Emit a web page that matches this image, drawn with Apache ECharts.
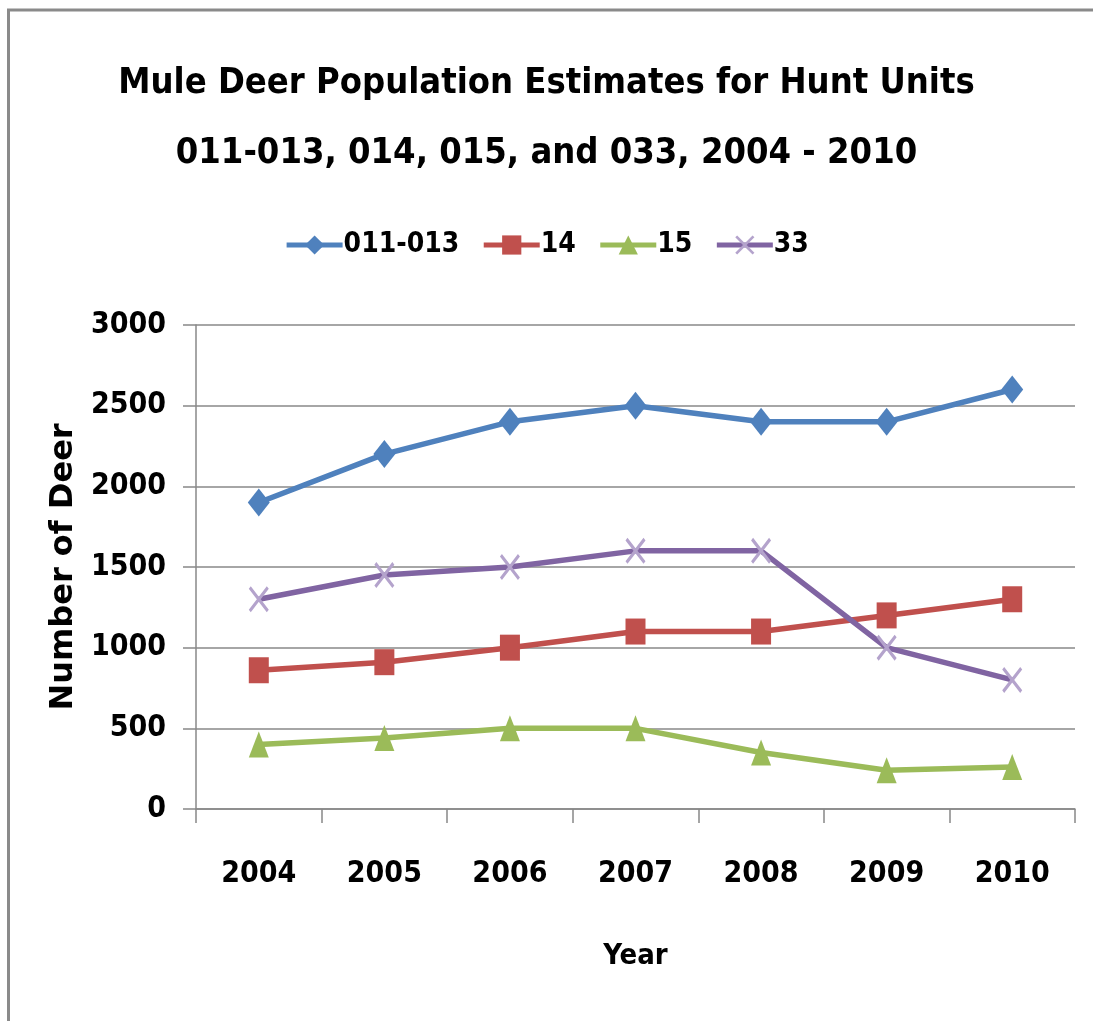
<!DOCTYPE html>
<html>
<head>
<meta charset="utf-8">
<script src="https://cdn.jsdelivr.net/npm/echarts@6/dist/echarts.min.js"></script>
<style>
  html, body { margin: 0; padding: 0; background: #fff; }
  #chart { width: 1093px; height: 1021px; }
</style>
</head>
<body>
<div id="chart"></div>
<script>
// data
var years = ['2004', '2005', '2006', '2007', '2008', '2009', '2010']
var unit011013 = [1900, 2200, 2400, 2500, 2400, 2400, 2600]
var unit14 = [860, 910, 1000, 1100, 1100, 1200, 1300]
var unit15 = [400, 440, 500, 500, 350, 240, 260]
var unit33 = [1300, 1450, 1500, 1600, 1600, 1000, 800]

var narrow = '"DejaVu Sans Condensed", "Roboto Condensed", Roboto, sans-serif'
var crossPath = 'path://M0,1L1,0L10,9L9,10ZM9,0L10,1L1,10L0,9Z'

var chart = echarts.init(document.getElementById('chart'))
chart.setOption({
  animation: false,
  backgroundColor: '#fff',
  title: {
    text: 'Mule Deer Population Estimates for Hunt Units\n011-013, 014, 015, and 033, 2004 - 2010',
    left: 'center',
    top: 44,
    textStyle: {
      fontFamily: narrow,
      fontWeight: 'bold',
      fontSize: 36,
      lineHeight: 70,
      color: '#000'
    }
  },
  legend: {
    top: 226,
    left: 'center',
    itemWidth: 56,
    itemHeight: 24,
    itemGap: 22,
    lineStyle: { width: 5 },
    textStyle: { fontFamily: narrow, fontWeight: 'bold', fontSize: 28, color: '#000', padding: [0, 0, 0, -4] },
    data: ['011-013', '14', '15', '33']
  },
  grid: { left: 196, right: 18, top: 325, bottom: 212 },
  xAxis: {
    type: 'category',
    data: years,
    boundaryGap: true,
    name: 'Year',
    nameLocation: 'middle',
    nameGap: 133,
    nameTextStyle: { fontFamily: narrow, fontWeight: 'bold', fontSize: 29, color: '#000' },
    axisLine: { lineStyle: { color: '#888', width: 1.5 } },
    axisTick: { show: true, length: 14, lineStyle: { color: '#888', width: 1.5 } },
    axisLabel: { fontFamily: narrow, fontWeight: 'bold', fontSize: 30, color: '#000', margin: 50 }
  },
  yAxis: {
    type: 'value',
    min: 0,
    max: 3000,
    interval: 500,
    name: 'Number of Deer',
    nameLocation: 'middle',
    nameGap: 113,
    nameTextStyle: { fontFamily: '"DejaVu Sans", sans-serif', fontWeight: 'bold', fontSize: 32, color: '#000' },
    axisLine: { show: true, lineStyle: { color: '#888', width: 1.5 } },
    axisTick: { show: true, length: 13, lineStyle: { color: '#888', width: 1.5 } },
    axisLabel: {
      fontFamily: narrow, fontWeight: 'bold', fontSize: 30, color: '#000', margin: 30,
      formatter: function (v) { return String(v) }
    },
    splitLine: { lineStyle: { color: '#888', width: 1.5 } }
  },
  graphic: [
    {
      type: 'polyline',
      shape: { points: [[8.5, 1021], [8.5, 10], [1093, 10]] },
      style: { stroke: '#8a8a8a', lineWidth: 3, fill: null }
    }
  ],
  series: [
    {
      name: '011-013',
      type: 'line',
      data: unit011013,
      symbol: 'diamond',
      symbolSize: [22, 28],
      itemStyle: { color: '#4F81BD' },
      lineStyle: { color: '#4F81BD', width: 5.5 }
    },
    {
      name: '14',
      type: 'line',
      data: unit14,
      symbol: 'rect',
      symbolSize: [20, 26],
      itemStyle: { color: '#C0504D' },
      lineStyle: { color: '#C0504D', width: 5.5 }
    },
    {
      name: '15',
      type: 'line',
      data: unit15,
      symbol: 'triangle',
      symbolSize: [20, 26],
      itemStyle: { color: '#9BBB59' },
      lineStyle: { color: '#9BBB59', width: 5.5 }
    },
    {
      name: '33',
      type: 'line',
      data: unit33,
      symbol: crossPath,
      symbolSize: [20, 26],
      itemStyle: { color: '#B4A3CC' },
      lineStyle: { color: '#8064A2', width: 5.5 }
    }
  ]
})
</script>
</body>
</html>
